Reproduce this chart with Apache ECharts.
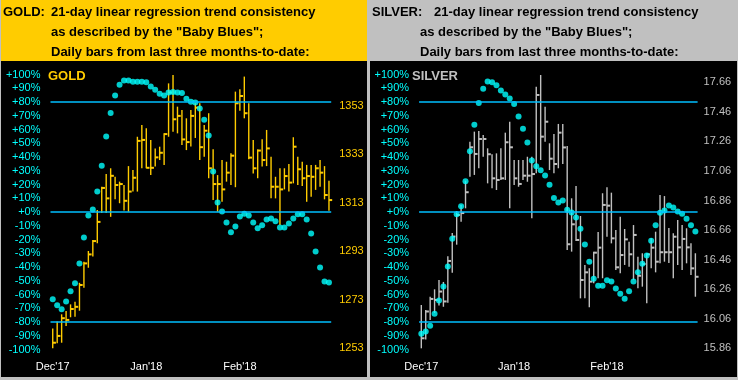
<!DOCTYPE html>
<html>
<head>
<meta charset="utf-8">
<script src="https://cdn.jsdelivr.net/npm/echarts@6/dist/echarts.min.js"></script>
<style>
html,body{margin:0;padding:0;background:#c0c0c0;}
#c{width:738px;height:380px;}
</style>
</head>
<body>
<div id="c"></div>
<script>
const dates = [
'2017-11-30','2017-12-01','2017-12-04','2017-12-05','2017-12-06','2017-12-07','2017-12-08','2017-12-11','2017-12-12','2017-12-13',
'2017-12-14','2017-12-15','2017-12-18','2017-12-19','2017-12-20','2017-12-21','2017-12-22','2017-12-26','2017-12-27','2017-12-28',
'2017-12-29','2018-01-02','2018-01-03','2018-01-04','2018-01-05','2018-01-08','2018-01-09','2018-01-10','2018-01-11','2018-01-12',
'2018-01-16','2018-01-17','2018-01-18','2018-01-19','2018-01-22','2018-01-23','2018-01-24','2018-01-25','2018-01-26','2018-01-29',
'2018-01-30','2018-01-31','2018-02-01','2018-02-02','2018-02-05','2018-02-06','2018-02-07','2018-02-08','2018-02-09','2018-02-12',
'2018-02-13','2018-02-14','2018-02-15','2018-02-16','2018-02-20','2018-02-21','2018-02-22','2018-02-23','2018-02-26','2018-02-27',
'2018-02-28','2018-03-01','2018-03-02'];

const monthLabels = {'2017-11-30':"Dec'17", '2018-01-02':"Jan'18", '2018-02-01':"Feb'18"};

const goldHigh = [1261.2,1264.0,1267.0,1268.4,1271.1,1272.2,1280.0,1288.7,1293.1,1297.6,
1310.0,1319.6,1324.8,1327.2,1323.7,1321.7,1320.3,1328.1,1326.5,1340.2,
1345.0,1343.7,1338.9,1335.4,1336.1,1341.6,1362.2,1365.7,1352.6,1351.2,
1347.8,1351.2,1354.0,1354.0,1345.0,1349.9,1335.0,1324.4,1330.6,1329.9,
1333.4,1358.8,1359.8,1365.0,1354.0,1338.9,1335.0,1339.2,1343.0,1332.0,
1323.7,1327.2,1327.2,1329.0,1340.0,1332.0,1329.9,1328.6,1328.6,1328.6,
1330.6,1328.1,1322.1];
const goldLow = [1253.0,1255.1,1255.3,1262.2,1265.8,1266.0,1268.5,1278.0,1286.2,1290.8,
1296.3,1308.8,1308.8,1307.2,1314.4,1312.8,1309.8,1309.3,1317.6,1317.6,
1327.2,1327.2,1324.4,1327.9,1330.6,1328.6,1340.2,1342.3,1341.6,1336.8,
1334.7,1336.2,1339.7,1330.6,1332.0,1323.1,1314.1,1309.3,1313.4,1321.7,
1320.3,1319.4,1350.9,1347.8,1330.9,1325.1,1323.1,1327.9,1328.1,1314.8,
1314.8,1303.8,1318.5,1317.6,1321.0,1320.3,1319.9,1313.4,1315.5,1318.3,
1319.6,1314.4,1309.7];
const goldClose = [1255.3,1258.1,1265.4,1264.7,1269.2,1270.1,1279.1,1288.0,1291.7,1297.2,
1305.1,1319.1,1314.8,1324.1,1320.3,1320.7,1313.8,1317.6,1323.3,1338.5,
1338.9,1327.4,1327.4,1331.7,1333.6,1341.3,1358.4,1347.4,1348.8,1339.1,
1338.0,1348.8,1352.2,1335.9,1342.7,1327.2,1320.7,1320.7,1318.5,1325.4,
1332.4,1354.0,1357.0,1349.9,1331.6,1327.2,1334.5,1330.6,1335.4,1319.6,
1319.6,1318.5,1324.0,1321.3,1336.1,1326.8,1323.1,1324.0,1323.7,1327.2,
1325.4,1316.2,1314.1];
const goldTrend = [-63.4,-67.9,-70.7,-65.0,-57.7,-51.9,-37.4,-18.5,-2.5,1.8,
15.0,33.7,55.0,72.0,84.8,92.6,95.7,95.7,94.8,94.8,
94.8,94.3,91.3,88.9,86.0,84.8,87.0,87.3,87.0,86.5,
82.4,80.2,79.7,75.3,67.1,55.7,29.5,7.0,0.4,-7.6,
-14.8,-10.5,-3.2,-1.2,-2.5,-7.6,-11.9,-9.7,-5.4,-4.7,
-6.8,-11.2,-11.2,-8.3,-4.7,-1.7,-1.7,-5.4,-15.6,-28.7,
-40.3,-50.5,-51.2];

const silverHigh = [16.153,16.119,16.209,16.259,16.322,16.309,16.482,16.640,16.789,16.830,
16.994,17.258,17.326,17.330,17.303,17.213,17.173,17.179,17.213,17.319,
17.393,17.134,17.134,17.134,17.156,17.156,17.630,17.709,17.495,17.247,
17.310,17.378,17.378,17.229,16.875,16.958,16.755,16.424,16.401,16.514,
16.647,16.909,16.949,16.913,16.660,16.750,16.667,16.581,16.694,16.480,
16.503,16.503,16.604,16.649,16.897,16.890,16.674,16.638,16.728,16.694,
16.672,16.570,16.503];
const silverLow = [15.860,15.920,16.051,16.099,16.150,16.141,16.169,16.372,16.561,16.717,
16.807,17.021,17.033,17.078,17.156,16.976,16.943,16.931,16.999,16.999,
16.807,16.965,16.953,16.999,16.987,16.740,17.044,17.134,17.258,17.066,
17.044,17.078,17.107,16.525,16.514,16.586,16.198,16.198,16.137,16.300,
16.334,16.334,16.615,16.570,16.390,16.367,16.424,16.412,16.322,16.266,
16.277,16.164,16.401,16.374,16.435,16.446,16.437,16.334,16.424,16.390,
16.435,16.356,16.209];
const silverClose = [15.928,16.109,16.194,16.187,16.244,16.177,16.451,16.616,16.762,16.775,
16.916,17.220,17.175,17.276,17.276,17.173,17.010,16.999,17.010,17.254,
17.220,17.010,16.972,17.028,17.028,17.039,17.574,17.292,17.393,17.143,
17.107,17.319,17.219,16.564,16.699,16.593,16.322,16.374,16.311,16.507,
16.541,16.830,16.825,16.604,16.408,16.491,16.597,16.496,16.627,16.351,
16.430,16.496,16.541,16.446,16.510,16.510,16.510,16.615,16.543,16.600,
16.543,16.401,16.344];
const silverTrend = [-88.5,-86.9,-82.7,-74.0,-64.4,-54.1,-39.6,-19.4,-1.6,4.1,
22.3,44.1,63.5,79.3,89.7,95.0,94.3,92.1,88.4,85.5,
82.6,78.5,69.5,60.6,50.6,37.5,33.2,30.3,26.6,19.9,
10.2,7.0,8.4,1.7,-0.3,-4.0,-12.1,-23.6,-36.1,-48.5,
-53.6,-53.6,-49.7,-50.5,-55.6,-59.4,-63.1,-57.7,-50.5,-43.9,
-37.6,-31.6,-20.9,-9.7,-0.5,1.1,4.8,3.3,0.4,-1.2,
-4.9,-9.7,-14.1];

const refLevels = [80, 0, -80];
const goldTicks = [1253,1273,1293,1313,1333,1353];
const silverTicks = [15.86,16.06,16.26,16.46,16.66,16.86,17.06,17.26,17.46,17.66];

const headerLine1 = '21-day linear regression trend consistency';
const headerLine2 = 'as described by the "Baby Blues";';
const headerLine3 = 'Daily bars from last three months-to-date:';

const GOLD = '#ffcc00', SILV = '#c0c0c0', CYAN = '#00ffff', LINE = '#00bfff';
const FONT = '"Liberation Sans", Arial, sans-serif';

function pctFmt(v){ return (v >= 0 ? '+' : '') + v + '%'; }

function ohlc(color){
  return function(params, api){
    const i = api.value(0);
    const t = api.coord([i, api.value(1)]);
    const b = api.coord([i, api.value(2)]);
    const c = api.coord([i, api.value(3)]);
    const w = api.size([1, 0])[0];
    return {type:'group', children:[
      {type:'line', shape:{x1:t[0], y1:t[1], x2:b[0], y2:b[1]}, style:{stroke:color, lineWidth:1.4}},
      {type:'line', shape:{x1:c[0], y1:c[1], x2:c[0] + w*0.72, y2:c[1]}, style:{stroke:color, lineWidth:2}}
    ]};
  };
}

function xAxisFor(gi){
  return {type:'category', gridIndex:gi, data:dates, boundaryGap:true,
    axisLine:{show:false}, axisTick:{show:false}, splitLine:{show:false},
    axisLabel:{color:'#ffffff', fontFamily:FONT, fontSize:11, margin:12,
      interval:(idx, val) => (val in monthLabels), formatter:v => monthLabels[v] || ''}};
}
function pctAxis(gi){
  return {type:'value', gridIndex:gi, position:'left', min:-100, max:100, interval:10,
    axisLine:{show:false}, axisTick:{show:false}, splitLine:{show:false},
    axisLabel:{color:CYAN, fontFamily:FONT, fontSize:11, margin:10, formatter:pctFmt}};
}
function priceAxis(gi, min, max, ticks, color, dec, margin){
  return {type:'value', gridIndex:gi, position:'right', min:min, max:max, scale:true,
    axisLine:{show:false}, axisTick:{show:false}, splitLine:{show:false},
    axisLabel:{color:color, fontFamily:FONT, fontSize:11, margin:margin, customValues:ticks,
      formatter:v => v.toFixed(dec)}};
}

function panelSeries(gi, high, low, close, trend, color){
  return [
    {type:'custom', xAxisIndex:gi, yAxisIndex:gi*2+1, renderItem:ohlc(color), clip:false,
     encode:{x:0, y:[1,2,3]}, data:dates.map((d,i)=>[i, high[i], low[i], close[i]]), z:3},
    {type:'scatter', xAxisIndex:gi, yAxisIndex:gi*2, data:trend.map((v,i)=>[i, v]),
     symbol:'circle', symbolSize:6, itemStyle:{color:CYAN}, z:4,
     markLine:{silent:true, symbol:'none', label:{show:false},
       lineStyle:{color:LINE, width:1.5, type:'solid'},
       data:refLevels.map(v=>({yAxis:v}))}}
  ];
}

const hdrFont = 'bold 13px ' + FONT;
function hdr(x0, name, firstX){
  return [
    {type:'text', style:{x:x0+3, y:12, text:name, font:hdrFont, fill:'#000', verticalAlign:'middle'}},
    {type:'text', style:{x:x0+firstX, y:12, text:headerLine1, font:hdrFont, fill:'#000', verticalAlign:'middle'}},
    {type:'text', style:{x:x0+51, y:32, text:headerLine2, font:hdrFont, fill:'#000', verticalAlign:'middle'}},
    {type:'text', style:{x:x0+51, y:52, text:headerLine3, font:hdrFont, fill:'#000', verticalAlign:'middle'}}
  ];
}

const chart = echarts.init(document.getElementById('c'), null, {renderer:'canvas'});
chart.setOption({
  animation:false,
  backgroundColor:'#c0c0c0',
  graphic:[
    {type:'rect', shape:{x:1, y:0, width:366, height:61}, style:{fill:GOLD}, z:-10},
    {type:'rect', shape:{x:1, y:61, width:366, height:316}, style:{fill:'#000'}, z:-10},
    {type:'rect', shape:{x:370, y:61, width:367, height:316}, style:{fill:'#000'}, z:-10},
    ...hdr(0, 'GOLD:', 51),
    ...hdr(369, 'SILVER:', 65),
    {type:'text', style:{x:48, y:76, text:'GOLD', font:'bold 13px ' + FONT, fill:GOLD, verticalAlign:'middle'}},
    {type:'text', style:{x:412, y:76, text:'SILVER', font:'bold 13px ' + FONT, fill:SILV, verticalAlign:'middle'}}
  ],
  grid:[
    {left:50.5, top:74.5, width:280.7, height:275, outerBoundsMode:'none'},
    {left:419.1, top:74.5, width:278.5, height:275, outerBoundsMode:'none'}
  ],
  xAxis:[xAxisFor(0), xAxisFor(1)],
  yAxis:[
    pctAxis(0),
    priceAxis(0, 1252.505, 1365.86, goldTicks, GOLD, 0, 8),
    pctAxis(1),
    priceAxis(1, 15.8519, 17.7125, silverTicks, SILV, 2, 6)
  ],
  series:[
    ...panelSeries(0, goldHigh, goldLow, goldClose, goldTrend, GOLD),
    ...panelSeries(1, silverHigh, silverLow, silverClose, silverTrend, SILV)
  ]
});
</script>
</body>
</html>
